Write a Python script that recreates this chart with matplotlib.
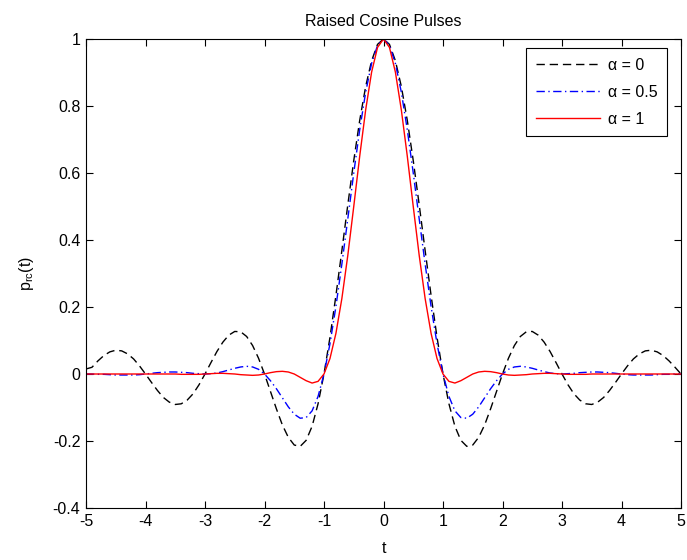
import numpy as np
import matplotlib
matplotlib.use("Agg")
import matplotlib.pyplot as plt

plt.rcParams['font.family'] = ['Liberation Sans', 'DejaVu Sans']
plt.rcParams['mathtext.fontset'] = 'custom'
plt.rcParams['mathtext.rm'] = 'Liberation Sans'

# time samples (step 0.1 from -5 to 5)
t = np.linspace(-5, 5, 101)

# alpha = 0 pulse
p_a0 = [0.015, 0.020, 0.039, 0.055, 0.066, 0.071, 0.069, 0.060, 0.045, 0.024, 0.0,
        -0.025, -0.049, -0.070, -0.084, -0.091, -0.089, -0.078, -0.059, -0.032, 0.0,
        0.034, 0.067, 0.095, 0.116, 0.127, 0.126, 0.112, 0.085, 0.047, 0.0,
        -0.052, -0.104, -0.152, -0.189, -0.212, -0.216, -0.198, -0.156, -0.089, 0.0,
        0.109, 0.234, 0.368, 0.505, 0.637, 0.757, 0.858, 0.935, 0.984,
        1.0,
        0.984, 0.935, 0.858, 0.757, 0.637, 0.505, 0.368, 0.234, 0.109, 0.0,
        -0.089, -0.156, -0.198, -0.216, -0.212, -0.189, -0.152, -0.104, -0.052, 0.0,
        0.047, 0.085, 0.112, 0.126, 0.127, 0.116, 0.095, 0.067, 0.034, 0.0,
        -0.032, -0.059, -0.078, -0.089, -0.091, -0.084, -0.070, -0.049, -0.025, 0.0,
        0.024, 0.045, 0.060, 0.069, 0.071, 0.066, 0.055, 0.039, 0.020, 0.0]

# alpha = 0.5 pulse
p_a05 = [0.0, 0.0, -0.001, -0.001, -0.002, -0.003, -0.003, -0.003, -0.003, -0.002, 0.0,
         0.002, 0.004, 0.005, 0.006, 0.006, 0.005, 0.004, 0.002, 0.001, 0.0,
         0.001, 0.003, 0.007, 0.012, 0.017, 0.021, 0.023, 0.021, 0.014, 0.0,
         -0.020, -0.044, -0.071, -0.098, -0.120, -0.132, -0.130, -0.110, -0.067, 0.0,
         0.090, 0.201, 0.328, 0.463, 0.600, 0.729, 0.841, 0.927, 0.981,
         1.0,
         0.981, 0.927, 0.841, 0.729, 0.600, 0.463, 0.328, 0.201, 0.090, 0.0,
         -0.067, -0.110, -0.130, -0.132, -0.120, -0.098, -0.071, -0.044, -0.020, 0.0,
         0.014, 0.021, 0.023, 0.021, 0.017, 0.012, 0.007, 0.003, 0.001, 0.0,
         0.001, 0.002, 0.004, 0.005, 0.006, 0.006, 0.005, 0.004, 0.002, 0.0,
         -0.002, -0.003, -0.003, -0.003, -0.003, -0.002, -0.001, -0.001, 0.0, 0.0]

# alpha = 1 pulse
p_a1 = [0.0, 0.0, 0.0, 0.0, 0.0, 0.0, 0.0, 0.0, 0.0, 0.0, 0.0,
        0.0, 0.0, 0.0, 0.0, 0.0, -0.001, -0.001, -0.001, -0.001, 0.0,
        0.001, 0.002, 0.002, 0.001, 0.0, -0.002, -0.003, -0.004, -0.003, 0.0,
        0.004, 0.007, 0.008, 0.006, 0.0, -0.010, -0.020, -0.027, -0.022, 0.0,
        0.046, 0.121, 0.225, 0.354, 0.500, 0.650, 0.788, 0.901, 0.975,
        1.0,
        0.975, 0.901, 0.788, 0.650, 0.500, 0.354, 0.225, 0.121, 0.046, 0.0,
        -0.022, -0.027, -0.020, -0.010, 0.0, 0.006, 0.008, 0.007, 0.004, 0.0,
        -0.003, -0.004, -0.003, -0.002, 0.0, 0.001, 0.002, 0.002, 0.001, 0.0,
        -0.001, -0.001, -0.001, -0.001, 0.0, 0.0, 0.0, 0.0, 0.0, 0.0,
        0.0, 0.0, 0.0, 0.0, 0.0, 0.0, 0.0, 0.0, 0.0, 0.0]

labels = ['\u03b1 = 0', '\u03b1 = 0.5', '\u03b1 = 1']
xticks = [-5, -4, -3, -2, -1, 0, 1, 2, 3, 4, 5]
yticks = [-0.4, -0.2, 0, 0.2, 0.4, 0.6, 0.8, 1]
ytick_labels = ['-0.4', '-0.2', '0', '0.2', '0.4', '0.6', '0.8', '1']

fs = 11.5
fig = plt.figure(figsize=(6.87, 5.6), dpi=100)
ax = fig.add_axes([86/687, 1 - 508/560, (681 - 86)/687, (508 - 39)/560])

ax.plot(t, p_a0, color='black', lw=1.0, linestyle=(0, (6, 3.5)), label=labels[0])
ax.plot(t, p_a05, color='blue', lw=1.0, linestyle=(0, (6, 2.5, 1, 2.5)), label=labels[1])
ax.plot(t, p_a1, color='red', lw=1.0, linestyle='-', label=labels[2])

ax.set_xlim(-5, 5)
ax.set_ylim(-0.4, 1)
ax.set_xticks(xticks)
ax.set_xticklabels([str(x) for x in xticks])
ax.set_yticks(yticks)
ax.set_yticklabels(ytick_labels)
ax.tick_params(direction='in', length=5, width=0.8, top=True, right=True,
               labelsize=fs, pad=4)
for s in ax.spines.values():
    s.set_linewidth(0.8)

ax.set_title('Raised Cosine Pulses', fontsize=fs, pad=9)
ax.set_xlabel('t', fontsize=fs, labelpad=9)
ax.set_ylabel(r'p$_{\mathrm{rc}}$(t)', fontsize=fs, labelpad=12)

# legend box sits ~14 px in from the right and ~9 px down from the top
leg = ax.legend(loc='upper right', bbox_to_anchor=(1 - 14/595, 1 - 9/469),
                fontsize=fs, fancybox=False, framealpha=1,
                edgecolor='black', handlelength=4.0, handletextpad=0.5,
                labelspacing=0.75, borderaxespad=0, borderpad=0.6)
leg.get_frame().set_linewidth(0.8)

fig.savefig('out.png', dpi=100)
